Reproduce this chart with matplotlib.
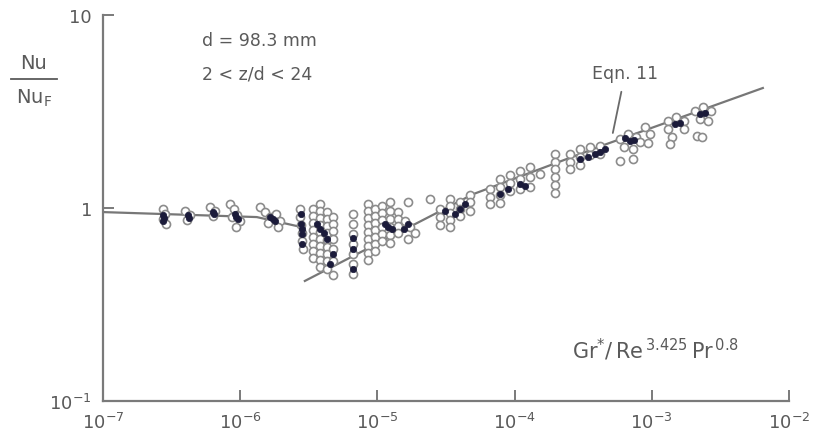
import numpy as np
import matplotlib
matplotlib.use('Agg')
import matplotlib.pyplot as plt
from matplotlib.lines import Line2D
from matplotlib.ticker import FixedLocator, FixedFormatter, NullLocator

# ── data ─────────────────────────────────────────────────────────────────────
# open circles, grouped by cluster (left to right)
open_x = [2.74e-7, 2.83e-7, 2.74e-7, 2.88e-7,
          3.96e-7, 4.31e-7, 4.10e-7,
          6.03e-7, 6.55e-7, 6.33e-7,
          8.43e-7, 9.01e-7, 9.48e-7, 9.97e-7, 9.32e-7, 8.71e-7,
          1.39e-6, 1.52e-6, 1.65e-6, 1.82e-6, 1.95e-6, 1.89e-6, 1.59e-6,
          2.73e-6, 2.73e-6, 2.77e-6, 2.82e-6, 2.82e-6, 2.87e-6,
          3.39e-6, 3.39e-6, 3.39e-6, 3.39e-6, 3.39e-6, 3.39e-6, 3.39e-6, 3.39e-6,
          3.82e-6, 3.82e-6, 3.82e-6, 3.82e-6, 3.82e-6, 3.82e-6, 3.82e-6, 3.82e-6, 3.82e-6, 3.82e-6,
          4.29e-6, 4.29e-6, 4.29e-6, 4.29e-6, 4.29e-6, 4.29e-6, 4.29e-6, 4.29e-6, 4.29e-6,
          4.75e-6, 4.75e-6, 4.75e-6, 4.75e-6, 4.75e-6, 4.75e-6, 4.75e-6,
          6.64e-6, 6.64e-6, 6.64e-6, 6.64e-6, 6.64e-6, 6.64e-6, 6.64e-6,
          8.54e-6, 8.54e-6, 8.54e-6, 8.54e-6, 8.54e-6, 8.54e-6, 8.54e-6, 8.54e-6, 8.54e-6,
          9.60e-6, 9.60e-6, 9.60e-6, 9.60e-6, 9.60e-6, 9.60e-6, 9.60e-6,
          1.08e-5, 1.08e-5, 1.08e-5, 1.08e-5, 1.08e-5, 1.08e-5,
          1.24e-5, 1.24e-5, 1.24e-5, 1.24e-5, 1.24e-5, 1.24e-5,
          1.41e-5, 1.41e-5, 1.41e-5, 1.41e-5,
          1.59e-5, 1.73e-5, 1.88e-5, 1.67e-5, 1.67e-5, 2.42e-5,
          2.86e-5, 2.86e-5, 2.86e-5,
          3.38e-5, 3.38e-5, 3.38e-5, 3.38e-5, 3.38e-5,
          4.00e-5, 4.00e-5, 4.00e-5,
          4.73e-5, 4.73e-5, 4.73e-5,
          6.62e-5, 6.62e-5, 6.62e-5,
          7.83e-5, 7.83e-5, 7.83e-5, 7.83e-5,
          9.26e-5, 9.26e-5, 9.26e-5,
          1.09e-4, 1.09e-4, 1.09e-4,
          1.29e-4, 1.29e-4, 1.29e-4, 1.53e-4,
          1.97e-4, 1.97e-4, 1.97e-4, 1.97e-4, 1.97e-4, 1.97e-4,
          2.53e-4, 2.53e-4, 2.53e-4,
          3.00e-4, 3.00e-4, 3.00e-4,
          3.54e-4, 3.54e-4, 4.19e-4, 4.19e-4,
          5.86e-4, 6.71e-4, 7.67e-4, 6.27e-4, 7.29e-4, 8.20e-4, 5.86e-4, 7.29e-4,
          8.92e-4, 9.70e-4, 9.38e-4,
          1.31e-3, 1.50e-3, 1.72e-3, 1.31e-3, 1.40e-3, 1.36e-3, 1.72e-3,
          2.07e-3, 2.36e-3, 2.70e-3, 2.25e-3, 2.57e-3, 2.14e-3, 2.32e-3]
open_y = [0.988, 0.931, 0.877, 0.826,
          0.965, 0.920, 0.867,
          1.01, 0.965, 0.909,
          1.05, 0.988, 0.920, 0.856, 0.797, 0.898,
          1.01, 0.953, 0.898, 0.931, 0.856, 0.797, 0.836,
          0.988, 0.898, 0.816, 0.742, 0.675, 0.613,
          0.988, 0.909, 0.836, 0.769, 0.707, 0.651, 0.599, 0.551,
          1.05, 0.965, 0.888, 0.816, 0.751, 0.691, 0.636, 0.584, 0.538, 0.495,
          0.953, 0.877, 0.807, 0.742, 0.683, 0.628, 0.578, 0.531, 0.483,
          0.898, 0.826, 0.760, 0.691, 0.613, 0.531, 0.450,
          0.931, 0.826, 0.733, 0.651, 0.578, 0.513, 0.455,
          1.05, 0.965, 0.888, 0.816, 0.751, 0.691, 0.636, 0.584, 0.538,
          0.988, 0.909, 0.836, 0.769, 0.707, 0.651, 0.599,
          1.02, 0.942, 0.867, 0.797, 0.733, 0.675,
          1.07, 0.965, 0.877, 0.797, 0.725, 0.659,
          0.953, 0.877, 0.807, 0.742,
          0.856, 0.797, 0.742, 0.691, 1.07, 1.11,
          0.988, 0.898, 0.816,
          1.11, 1.02, 0.942, 0.867, 0.797,
          1.07, 0.988, 0.909,
          1.17, 1.07, 0.965,
          1.25, 1.14, 1.05,
          1.41, 1.28, 1.17, 1.06,
          1.48, 1.35, 1.22,
          1.56, 1.41, 1.25,
          1.63, 1.45, 1.28, 1.50,
          1.91, 1.73, 1.59, 1.45, 1.32, 1.20,
          1.91, 1.73, 1.59,
          2.02, 1.84, 1.67,
          2.07, 1.88, 2.10, 1.91,
          2.28, 2.42, 2.33, 2.07, 2.02, 2.20, 1.75, 1.79,
          2.63, 2.42, 2.17,
          2.82, 2.96, 2.82, 2.57, 2.33, 2.15, 2.57,
          3.18, 3.34, 3.18, 2.89, 2.82, 2.36, 2.33]

# dark (overprinted) points inside the clusters
dark_x = [2.74e-7, 2.74e-7, 2.80e-7, 4.16e-7, 4.20e-7, 6.33e-7, 6.40e-7,
          9.17e-7, 9.64e-7, 9.30e-7, 1.65e-6, 1.79e-6, 1.72e-6,
          2.77e-6, 2.77e-6, 2.82e-6, 2.82e-6, 2.80e-6,
          3.82e-6, 4.29e-6, 4.75e-6, 4.51e-6, 4.05e-6, 3.60e-6,
          6.64e-6, 6.64e-6, 6.64e-6,
          1.14e-5, 1.28e-5, 1.20e-5, 1.67e-5, 1.55e-5,
          3.68e-5, 4.35e-5, 3.10e-5, 4.00e-5,
          7.83e-5, 1.09e-4, 9.00e-5, 1.20e-4,
          3.00e-4, 3.85e-4, 4.56e-4, 3.40e-4, 4.20e-4,
          6.94e-4, 6.40e-4, 7.40e-4, 1.48e-3, 1.60e-3, 2.25e-3, 2.45e-3]
dark_y = [0.920, 0.856, 0.890, 0.920, 0.890, 0.953, 0.930,
          0.931, 0.877, 0.900, 0.898, 0.856, 0.880,
          0.931, 0.826, 0.733, 0.651, 0.780,
          0.778, 0.691, 0.578, 0.513, 0.740, 0.830,
          0.613, 0.483, 0.700,
          0.826, 0.778, 0.800, 0.826, 0.780,
          0.931, 1.05, 0.960, 0.990,
          1.18, 1.33, 1.25, 1.30,
          1.79, 1.91, 2.02, 1.85, 1.95,
          2.22, 2.30, 2.25, 2.72, 2.75, 3.07, 3.10]

# drawn lines
flat_x = [1e-7, 1.32e-6, 2.73e-6]
flat_y = [0.953, 0.898, 0.80]
eqn_x = [2.96e-6, 4.98e-5, 4.71e-4, 6.45e-3]
eqn_y = [0.419, 1.18, 2.15, 4.19]

x_ticks = [1e-7, 1e-6, 1e-5, 1e-4, 1e-3, 1e-2]
y_ticks = [0.1, 1, 10]
y_labels = ['$10^{-1}$', '1', '10']

# ── plot ─────────────────────────────────────────────────────────────────────
ink = '#5a5a5a'
plt.rcParams['font.family'] = 'DejaVu Sans'
fig = plt.figure(figsize=(8.24, 4.39), dpi=100)
ax = fig.add_axes([0.125, 0.0843, 0.8325, 0.879])
ax.set_xscale('log'); ax.set_yscale('log')
ax.set_xlim(1e-7, 1e-2); ax.set_ylim(0.1, 10)

ax.plot(flat_x, flat_y, color='#777777', lw=1.6, zorder=2)
ax.plot(eqn_x, eqn_y, color='#777777', lw=1.6, zorder=2)
ax.plot(open_x, open_y, 'o', ms=5.8, mfc='white', mec='#8c8c8c', mew=1.2, zorder=3)
ax.plot(dark_x, dark_y, 'o', ms=4.6, mfc='#1b1b3a', mec='#1b1b3a', mew=0.5, zorder=4)

for s in ['top', 'right']: ax.spines[s].set_visible(False)
for s in ['left', 'bottom']:
    ax.spines[s].set_color('#7a7a7a'); ax.spines[s].set_linewidth(1.6)

ax.xaxis.set_major_locator(FixedLocator(x_ticks))
ax.xaxis.set_minor_locator(NullLocator())
ax.yaxis.set_major_locator(FixedLocator(y_ticks))
ax.yaxis.set_major_formatter(FixedFormatter(y_labels))
ax.yaxis.set_minor_locator(NullLocator())
ax.tick_params(direction='in', length=8, width=1.4, color='#7a7a7a',
               labelcolor=ink, labelsize=13)
ax.tick_params(axis='x', pad=8)
ax.tick_params(axis='y', pad=8)

ax.annotate('Eqn. 11', xy=(5.2e-4, 2.45), xytext=(6.4e-4, 5.0),
            ha='center', va='center', fontsize=12.5, color=ink,
            arrowprops=dict(arrowstyle='-', color='#6a6a6a', lw=1.3,
                            shrinkA=5, shrinkB=0))

fig.text(0.245, 0.907, 'd = 98.3 mm', fontsize=12.5, color=ink, va='center')
fig.text(0.245, 0.830, '2 < z/d < 24', fontsize=12.5, color=ink, va='center')

# Nu / Nu_F as a hand-set fraction
fig.text(0.041, 0.855, 'Nu', fontsize=14, color=ink, ha='center', va='center')
fig.add_artist(Line2D([0.013, 0.069], [0.818, 0.818], transform=fig.transFigure,
                      color=ink, lw=1.3))
fig.text(0.041, 0.775, r'Nu$_\mathrm{F}$', fontsize=14, color=ink, ha='center', va='center')

fig.text(0.694, 0.203, r'$\mathrm{Gr^{*}/\,Re^{\,3.425}\,Pr^{\,0.8}}$', fontsize=15,
         color=ink, va='center')

plt.savefig('out.png', dpi=100)
